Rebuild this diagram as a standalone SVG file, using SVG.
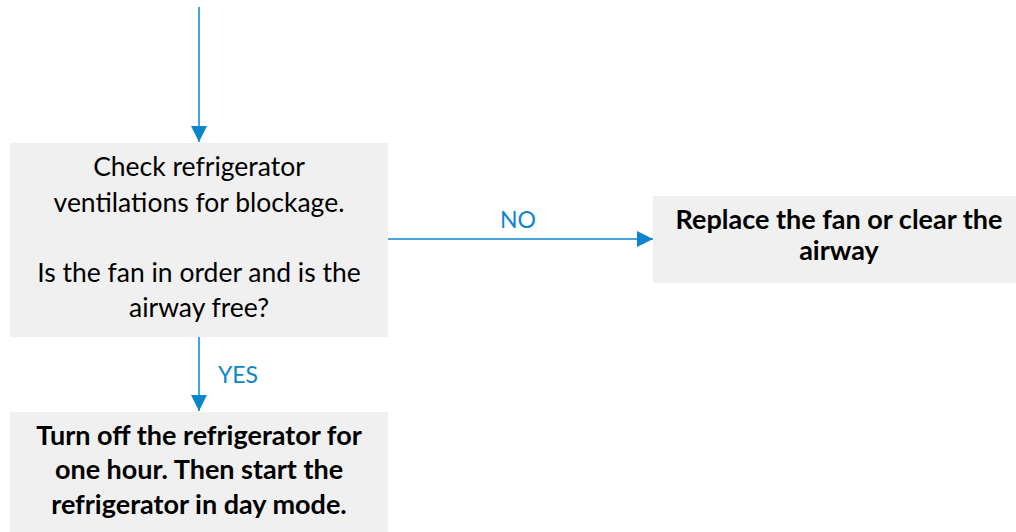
<svg xmlns="http://www.w3.org/2000/svg" width="1016" height="532" viewBox="0 0 1016 532">
<style>
.box{fill:#f0f0f0;stroke:none}
.t{font-family:Lato,"Liberation Sans",sans-serif;font-size:26.5px;fill:#000;text-anchor:middle}
.b{font-weight:bold;font-size:27px}
.lbl{font-family:Lato,"Liberation Sans",sans-serif;font-size:23px;fill:#0b86cc;text-anchor:middle}
.c{stroke:#0b86cc;stroke-width:1.5;fill:none}
</style>
<defs>
<marker id="ah" viewBox="0 0 16 16" refX="16" refY="8" markerWidth="16" markerHeight="16" markerUnits="userSpaceOnUse" orient="auto">
<path d="M0,0 L16,8 L0,16 z" fill="#0b86cc"/>
</marker>
</defs>
<g id="connectors">
<line class="c" x1="199" y1="7" x2="199" y2="142" marker-end="url(#ah)"/>
<line class="c" x1="388" y1="239" x2="653" y2="239" marker-end="url(#ah)"/>
<text class="lbl" x="518" y="228">NO</text>
<line class="c" x1="199" y1="337" x2="199" y2="411" marker-end="url(#ah)"/>
<text class="lbl" x="238" y="383">YES</text>
</g>
<g id="check">
<rect class="box" x="10" y="143" width="378" height="194"/>
<text class="t" x="199" y="176">Check refrigerator</text>
<text class="t" x="199" y="212">ventilations for blockage.</text>
<text class="t" x="199" y="282">Is the fan in order and is the</text>
<text class="t" x="199" y="317">airway free?</text>
</g>
<g id="replace">
<rect class="box" x="653" y="196" width="363" height="87"/>
<text class="t b" x="839" y="229">Replace the fan or clear the</text>
<text class="t b" x="839" y="260">airway</text>
</g>
<g id="turnoff">
<rect class="box" x="10" y="412" width="378" height="120"/>
<text class="t b" x="199" y="445">Turn off the refrigerator for</text>
<text class="t b" x="199" y="479">one hour. Then start the</text>
<text class="t b" x="199" y="514">refrigerator in day mode.</text>
</g>
</svg>
